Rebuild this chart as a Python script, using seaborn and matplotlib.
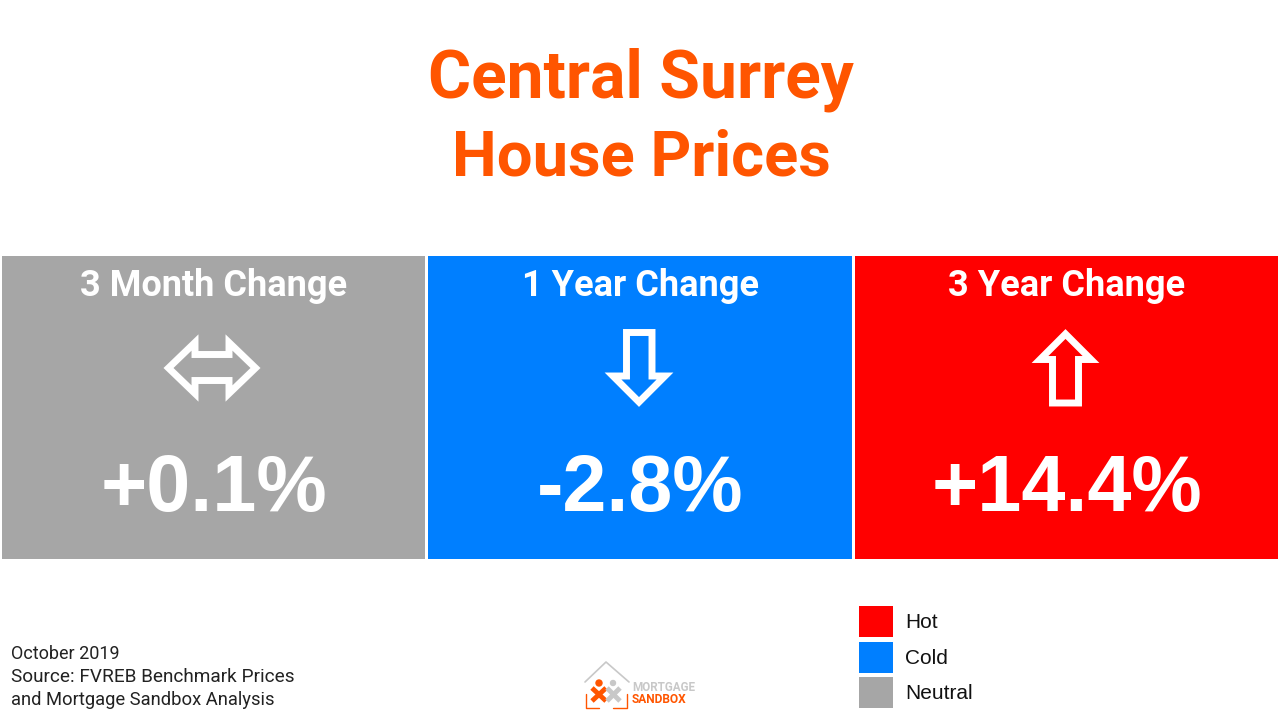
import matplotlib
matplotlib.use("Agg")
import matplotlib.pyplot as plt
from matplotlib.patches import Patch, Polygon, Circle
import pandas as pd
import seaborn as sns

periods = ["3 Month Change", "1 Year Change", "3 Year Change"]
changes = ["+0.1%", "-2.8%", "+14.4%"]
directions = ["both", "down", "up"]
states = ["Neutral", "Cold", "Hot"]
tile_heights = [1, 1, 1]

colors = {"Hot": "#ff0000", "Cold": "#007fff", "Neutral": "#a6a6a6"}
legend_order = ["Hot", "Cold", "Neutral"]
orange = "#ff5500"
logo_grey = "#c8c8c8"

# arrow outlines, pixels from the arrow centre
arrow_shapes = {
    "both": [(-44.5, 0), (-18, -25.5), (-18, -13.5), (16, -13.5), (16, -25.5), (42.5, 0),
             (16, 25.5), (16, 12.5), (-18, 12.5), (-18, 25.5)],
    "down": [(-12.5, -35.5), (13, -35.5), (13, 8), (26, 8), (0, 34), (-26, 8), (-12.5, 8)],
    "up": [(-13, 35), (13, 35), (13, -8.5), (25.5, -8.5), (0, -34), (-25.5, -8.5), (-13, -8.5)],
}
arrow_centres = [(213, 368), (639, 368), (1065.5, 368)]

sns.set_theme(style="white")

fig = plt.figure(figsize=(12.8, 7.2), dpi=100)

# tiles: one seaborn bar per period
ax = fig.add_axes([0, 1 - 559 / 720, 1, 303 / 720])
df = pd.DataFrame({"period": periods, "height": tile_heights, "state": states})
sns.barplot(data=df, x="period", y="height", hue="state", palette=colors, dodge=False,
            width=0.9925, saturation=1, legend=False, linewidth=0, edgecolor="none", ax=ax)
ax.set_xlim(-0.5, 2.5)
ax.set_ylim(0, 1)
ax.axis("off")

# overlay in pixel coordinates for text and drawn symbols
pix = fig.add_axes([0, 0, 1, 1], facecolor="none")
pix.set_xlim(0, 1280)
pix.set_ylim(720, 0)
pix.axis("off")

title_font = "Roboto"
pix.text(641, 98, "Central Surrey", color=orange, fontsize=47.5, fontweight="bold",
         family=title_font, ha="center", va="baseline")
pix.text(641, 176, "House Prices", color=orange, fontsize=45.5, fontweight="bold",
         family=title_font, ha="center", va="baseline")

centres = [213.5, 640, 1067]
for cx, period, change, direction, acentre in zip(centres, periods, changes, directions, arrow_centres):
    pix.text(cx, 296, period, color="white", fontsize=26, fontweight="bold",
             family=title_font, ha="center", va="baseline")
    pix.text(cx, 511, change, color="white", fontsize=57, fontweight="bold",
             family="Liberation Sans", ha="center", va="baseline")
    outline = [(acentre[0] + dx, acentre[1] + dy) for dx, dy in arrow_shapes[direction]]
    pix.add_patch(Polygon(outline, closed=True, facecolor="none", edgecolor="white",
                          linewidth=5, joinstyle="miter"))

# source note
for y, line, size in zip([659, 682, 705],
                         ["October 2019", "Source: FVREB Benchmark Prices",
                          "and Mortgage Sandbox Analysis"],
                         [13, 13.7, 13.2]):
    pix.text(11, y, line, color="#222222", fontsize=size, family=title_font,
             ha="left", va="baseline")

# legend
handles = [Patch(facecolor=colors[s], edgecolor="none", label=s) for s in legend_order]
fig.legend(handles=handles, loc="upper left", bbox_to_anchor=(859 / 1280, 1 - 606 / 720),
           frameon=False, borderpad=0, borderaxespad=0, handlelength=1.63, handleheight=1.913,
           labelspacing=0.22, handletextpad=0.58,
           prop={"family": "Liberation Sans", "size": 15}, labelcolor="#111111")

# logo
pix.plot([585, 606, 629], [682, 662, 682], color=logo_grey, lw=1.2)
pix.plot([586, 586, 599], [694, 708, 708], color=orange, lw=1)
pix.plot([613, 627, 627], [708, 708, 694], color=orange, lw=1)
pix.plot([592, 606], [688, 701], color=orange, lw=3.5, solid_capstyle="butt")
pix.plot([606, 592], [688, 701], color=orange, lw=3.5, solid_capstyle="butt")
pix.plot([607, 620], [688, 701], color=logo_grey, lw=3.5, solid_capstyle="butt")
pix.plot([620, 607], [688, 701], color=logo_grey, lw=3.5, solid_capstyle="butt")
pix.add_patch(Circle((599, 683), 3, color=orange))
pix.add_patch(Circle((613, 683), 2.5, color=logo_grey))
pix.text(632, 691, "MORTGAGE", color=logo_grey, fontsize=8.4, fontweight="bold",
         family=title_font, ha="left", va="baseline")
pix.text(632, 703, "SANDBOX", color=orange, fontsize=8.6, fontweight="bold",
         family=title_font, ha="left", va="baseline")

fig.savefig("out.png", dpi=100, facecolor="white")
